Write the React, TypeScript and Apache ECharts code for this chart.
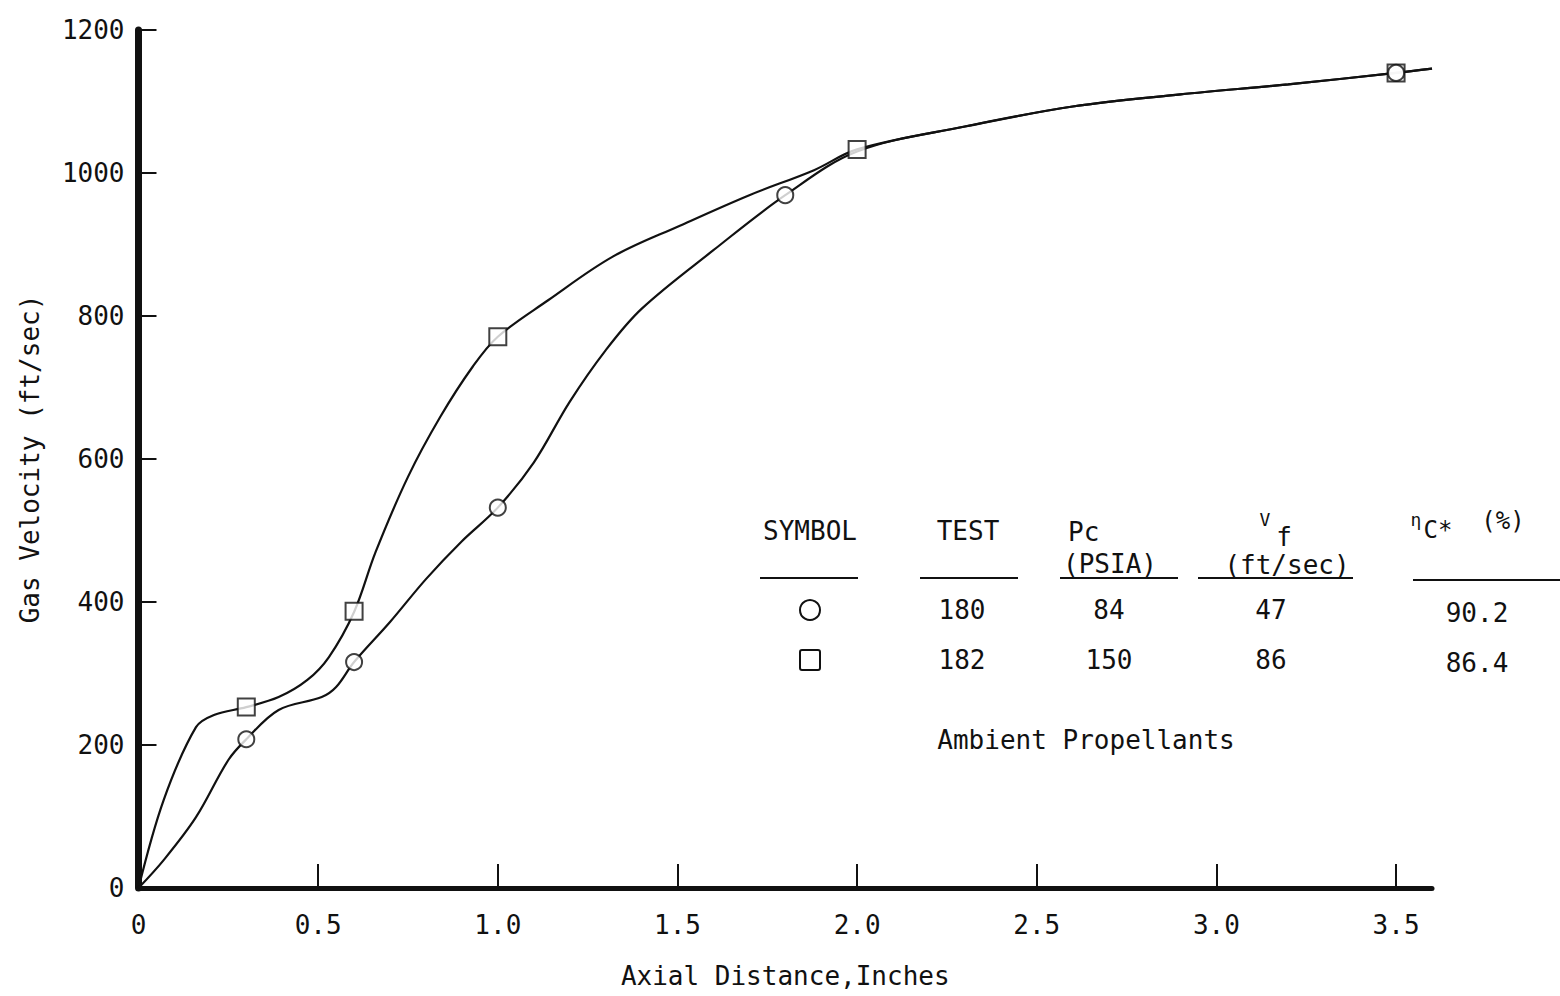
import React, { useEffect, useRef } from "react";
import * as echarts from "echarts";

// Marker data (Axial distance in inches, gas velocity ft/sec)
const circleMarkers: [number, number][] = [
  [0.3, 208], [0.6, 316], [1.0, 532], [1.8, 969], [3.5, 1140],
];
const squareMarkers: [number, number][] = [
  [0.3, 253], [0.6, 387], [1.0, 771], [2.0, 1033], [3.5, 1140],
];

// Hand-drawn faired curves
const circleCurve: [number, number][] = [
  [0, 0], [0.07, 39], [0.16, 99], [0.25, 179], [0.3, 208], [0.39, 249],
  [0.51, 267], [0.55, 281], [0.6, 316], [0.7, 372], [0.8, 432], [0.9, 485],
  [1.0, 532], [1.1, 595], [1.2, 680], [1.3, 752], [1.4, 810],
  [1.6, 892], [1.8, 969], [2.0, 1030], [2.3, 1065], [2.6, 1093], [2.9, 1110],
  [3.2, 1124], [3.5, 1140], [3.6, 1146],
];
const squareCurve: [number, number][] = [
  [0, 0], [0.07, 123], [0.16, 225], [0.21, 242], [0.3, 253], [0.39, 267],
  [0.47, 291], [0.53, 323], [0.6, 386], [0.66, 470], [0.75, 575], [0.84, 659],
  [0.93, 729], [1.0, 771], [1.14, 822], [1.32, 883], [1.51, 927], [1.7, 969],
  [1.88, 1004], [2.0, 1033], [2.3, 1065], [2.6, 1093], [2.9, 1110],
  [3.2, 1124], [3.5, 1140], [3.6, 1146],
];

const xTicks = [0.5, 1.0, 1.5, 2.0, 2.5, 3.0, 3.5];
const xLabels = [0, 0.5, 1.0, 1.5, 2.0, 2.5, 3.0, 3.5];

const tableHeaders = ["SYMBOL", "TEST"];
const tests = ["180", "182"];
const pcValues = ["84", "150"];
const vfValues = ["47", "86"];
const etaValues = ["90.2", "86.4"];

const FONT = "DejaVu Sans Mono";

export default function App() {
  const ref = useRef<HTMLDivElement>(null);
  useEffect(() => {
    if (!ref.current) return;
    const chart = echarts.init(ref.current, undefined, { renderer: "svg" });
    const txt = (x: number, y: number, text: string, size = 26, align = "center") => ({
      type: "text",
      x,
      y,
      style: {
        text,
        font: `${size}px "${FONT}"`,
        fill: "#111",
        textAlign: align,
        textVerticalAlign: "middle",
      },
    });
    const uline = (x1: number, x2: number, y: number) => ({
      type: "line",
      shape: { x1, y1: y, x2, y2: y },
      style: { stroke: "#111", lineWidth: 2 },
    });
    const rowY = [610, 660];
    const graphics: any[] = [
      txt(810, 531, tableHeaders[0]),
      txt(968, 531, tableHeaders[1]),
      txt(1068, 532, "Pc", 26, "left"),
      txt(1110, 564, "(PSIA)"),
      txt(1265, 519, "V", 18),
      txt(1284, 537, "f", 26),
      txt(1287, 565, "(ft/sec)"),
      txt(1416, 519, "η", 18),
      txt(1438, 530, "C*", 24),
      txt(1503, 521, "(%)", 24),
      uline(760, 858, 578),
      uline(920, 1018, 578),
      uline(1060, 1178, 578),
      uline(1198, 1353, 578),
      uline(1413, 1560, 580),
      {
        type: "circle",
        shape: { cx: 810, cy: rowY[0], r: 10 },
        style: { stroke: "#111", fill: "#fff", lineWidth: 2 },
      },
      {
        type: "rect",
        shape: { x: 800, y: rowY[1] - 10, width: 20, height: 20, r: 2 },
        style: { stroke: "#111", fill: "#fff", lineWidth: 2 },
      },
      txt(1086, 740, "Ambient Propellants"),
    ];
    for (let i = 0; i < 2; i++) {
      graphics.push(txt(962, rowY[i], tests[i]));
      graphics.push(txt(1109, rowY[i], pcValues[i]));
      graphics.push(txt(1271, rowY[i], vfValues[i]));
      graphics.push(txt(1477, rowY[i] + 3, etaValues[i]));
    }

    chart.setOption({
      animation: false,
      backgroundColor: "#fff",
      grid: {
        left: 138.5,
        right: 128,
        top: 30,
        bottom: 108,
        containLabel: false,
        outerBoundsMode: "none",
      },
      xAxis: {
        type: "value",
        min: 0,
        max: 3.6,
        name: "Axial Distance,Inches",
        nameLocation: "middle",
        nameGap: 75,
        nameTextStyle: { fontFamily: FONT, fontSize: 26, color: "#111" },
        axisLine: { show: true, lineStyle: { color: "#111", width: 5 } },
        axisTick: {
          show: true,
          inside: true,
          length: 24,
          customValues: xTicks,
          lineStyle: { color: "#111", width: 2 },
        },
        axisLabel: {
          customValues: xLabels,
          fontFamily: FONT,
          fontSize: 26,
          color: "#111",
          margin: 24,
          formatter: (v: number) => (v === 0 ? "0" : v.toFixed(1)),
        },
        splitLine: { show: false },
      },
      yAxis: {
        type: "value",
        min: 0,
        max: 1200,
        interval: 200,
        name: "Gas Velocity (ft/sec)",
        nameLocation: "middle",
        nameGap: 96,
        nameTextStyle: { fontFamily: FONT, fontSize: 26, color: "#111" },
        axisLine: { show: true, lineStyle: { color: "#111", width: 7 } },
        axisTick: {
          show: true,
          inside: true,
          length: 18,
          lineStyle: { color: "#111", width: 2 },
        },
        axisLabel: {
          fontFamily: FONT,
          fontSize: 26,
          color: "#111",
          margin: 14,
          formatter: (v: number) => String(v),
        },
        splitLine: { show: false },
      },
      series: [
        {
          type: "line",
          data: squareCurve,
          smooth: 0.35,
          showSymbol: false,
          lineStyle: { color: "#111", width: 2.2 },
          z: 2,
        },
        {
          type: "line",
          data: circleCurve,
          smooth: 0.35,
          showSymbol: false,
          lineStyle: { color: "#111", width: 2.2 },
          z: 2,
        },
        {
          type: "scatter",
          data: squareMarkers,
          symbol: "rect",
          symbolSize: 17,
          itemStyle: { color: "#fff", borderColor: "#111", borderWidth: 2 },
          z: 3,
        },
        {
          type: "scatter",
          data: circleMarkers,
          symbol: "circle",
          symbolSize: 16,
          itemStyle: { color: "#fff", borderColor: "#111", borderWidth: 2 },
          z: 4,
        },
      ],
      graphic: graphics,
    });
    return () => chart.dispose();
  }, []);
  return (
    <div
      ref={ref}
      style={{ position: "fixed", left: 0, top: 0, width: 1560, height: 996, background: "#fff" }}
    />
  );
}
